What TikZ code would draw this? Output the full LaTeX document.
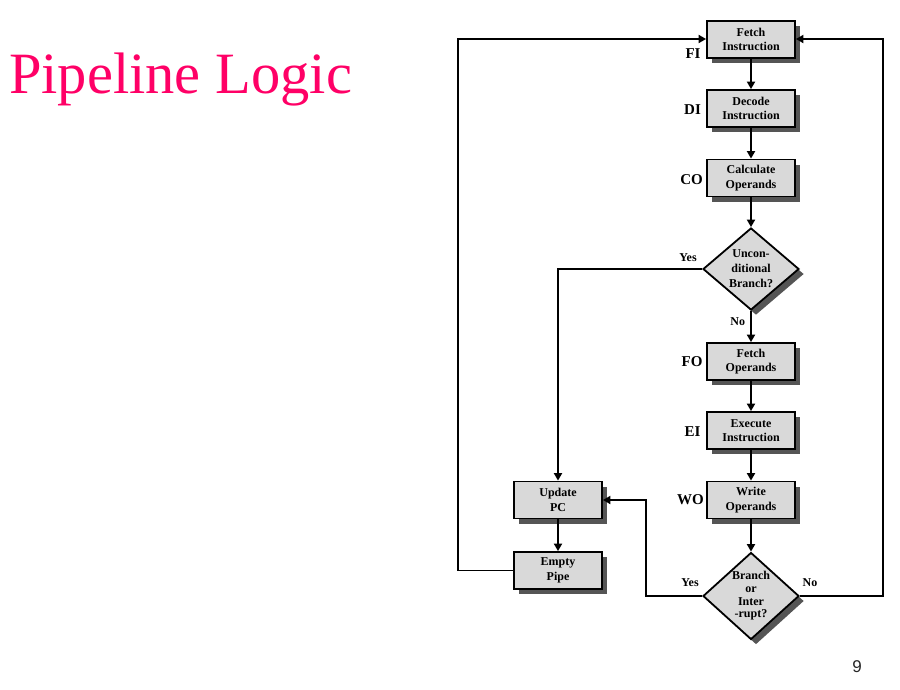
\documentclass[tikz,border=0pt]{standalone}
\usepackage{fontspec}
\setmainfont{Liberation Serif}
\newfontfamily\pagenumfont{Liberation Sans}
\usetikzlibrary{shapes.geometric,arrows.meta,shadows}
\definecolor{titlepink}{RGB}{255,0,102}
\definecolor{boxfill}{RGB}{217,217,217}
\definecolor{shadowgray}{RGB}{85,85,85}
\tikzset{
  shade5/.style={drop shadow={shadow xshift=5pt,shadow yshift=-5pt,fill=shadowgray,opacity=1}},
  stagebox/.style={draw=black,line width=1.8pt,fill=boxfill,shade5,
    minimum width=88pt,minimum height=37pt,inner sep=0pt,align=center,
    font=\fontsize{12}{14.5}\selectfont\bfseries},
  decision/.style={diamond,draw=black,line width=1.8pt,fill=boxfill,shade5,
    minimum width=96pt,minimum height=80pt,inner sep=0pt,align=center,
    font=\fontsize{12}{15}\selectfont\bfseries},
  stagelbl/.style={font=\fontsize{15}{16}\selectfont\bfseries,inner sep=0pt},
  anslbl/.style={font=\fontsize{12}{13}\selectfont\bfseries,inner sep=0pt},
  flow/.style={line width=1.8pt,-{Triangle[length=7.5pt,width=8pt]}}
}
\begin{document}
\begin{tikzpicture}[x=1pt,y=-1pt]
\useasboundingbox (0,0) rectangle (900,689);

% title and page number
\node[anchor=base west,text=titlepink,inner sep=0pt,font=\fontsize{58.5}{60}\selectfont] (title) at (9,93) {Pipeline Logic};
\node[anchor=base,inner sep=0pt,font=\pagenumfont\fontsize{17}{18}\selectfont,text=black!85] (pnum) at (857,672) {9};

% main column of stages
\node[stagebox] (fi) at (751,39.5) {Fetch\\Instruction};
\node[stagebox] (di) at (751,108.5) {Decode\\Instruction};
\node[stagebox] (co) at (751,178) {Calculate\\Operands};
\node[decision] (uc) at (751,269) {Uncon-\\ditional\\Branch?};
\node[stagebox] (fo) at (751,361.5) {Fetch\\Operands};
\node[stagebox] (ei) at (751,430.5) {Execute\\Instruction};
\node[stagebox] (wo) at (751,500) {Write\\Operands};
\node[decision,font=\fontsize{12}{12.7}\selectfont\bfseries] (br) at (751,596) {Branch\\or\\Inter\\-rupt?};

% branch handling column
\node[stagebox] (upc) at (558,500) {Update\\PC};
\node[stagebox] (ep) at (558,570.5) {Empty\\Pipe};

% stage labels
\node[stagelbl] (lfi) at (693,53.5) {FI};
\node[stagelbl] (ldi) at (692.5,110) {DI};
\node[stagelbl] (lco) at (691.5,180) {CO};
\node[stagelbl] (lfo) at (692,362) {FO};
\node[stagelbl] (lei) at (692.5,432) {EI};
\node[stagelbl] (lwo) at (690.5,500) {WO};

% loop corners
\coordinate (lt) at (458,39);
\coordinate (rt) at (883,39);
\coordinate (bj) at (646,596);

% straight flow
\draw[flow] (fi) -- (di);
\draw[flow] (di) -- (co);
\draw[flow] (co) -- (uc);
\draw[flow] (uc) -- node[anslbl,pos=0.35,left=5pt] (lno1) {No} (fo);
\draw[flow] (fo) -- (ei);
\draw[flow] (ei) -- (wo);
\draw[flow] (wo) -- (br);
\draw[flow] (upc) -- (ep);

% branch paths
\draw[flow] (uc.west) -| (upc.north);
\node[anslbl] (lyes1) at (688,257.5) {Yes};
\draw[flow] (br.west) -- (bj) |- (upc.east);
\node[anslbl] (lyes2) at (690,582.5) {Yes};
\draw[flow] (br.east) -- (rt |- br.east) -- (rt) -- (fi.east |- rt);
\node[anslbl] (lno2) at (810,582.5) {No};
\draw[flow] (ep.west) -- (lt |- ep.west) -- (lt) -- (fi.west |- lt);
\end{tikzpicture}
\end{document}
